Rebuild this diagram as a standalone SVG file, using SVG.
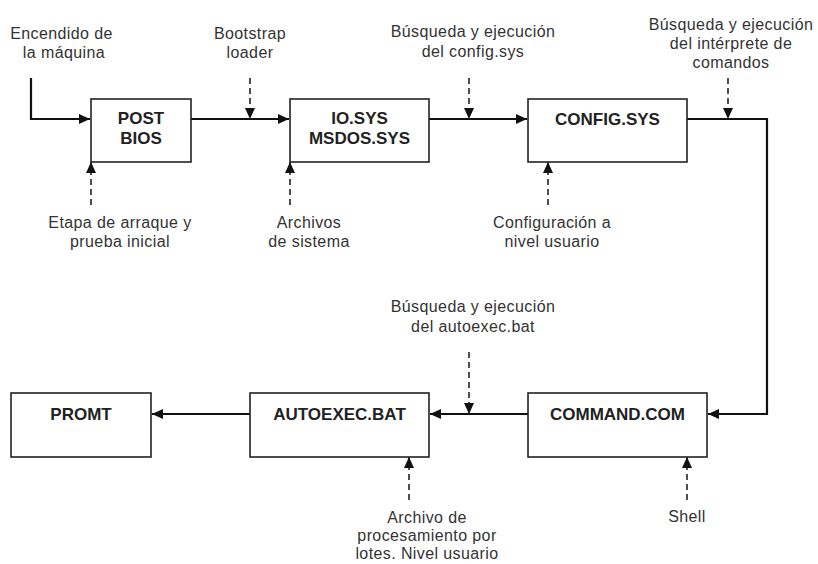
<svg xmlns="http://www.w3.org/2000/svg" width="818" height="564" viewBox="0 0 818 564">
  <style>
    .box { fill: #ffffff; stroke: #222; stroke-width: 1.6; }
    .title { font-family: "Liberation Sans", Arial, sans-serif; font-weight: bold; font-size: 17px; fill: #222; text-anchor: middle; }
    .note { font-family: "Liberation Sans", Arial, sans-serif; font-size: 16px; letter-spacing: 0.4px; fill: #333; text-anchor: middle; }
    .flow { fill: none; stroke: #111; stroke-width: 2.2; marker-end: url(#head); }
    .hint { fill: none; stroke: #222; stroke-width: 1.6; stroke-dasharray: 6 4; marker-end: url(#head); }
  </style>
  <defs>
    <marker id="head" markerUnits="userSpaceOnUse" markerWidth="12" markerHeight="10" refX="11" refY="5" orient="auto">
      <path d="M0,0 L11,5 L0,10 z" fill="#111"/>
    </marker>
  </defs>
  <rect width="818" height="564" fill="#ffffff"/>

  <!-- flow connectors -->
  <g id="connectors">
    <path class="flow" d="M31,78 V119 H90"/>
    <path class="flow" d="M191,119 H289"/>
    <path class="flow" d="M429,119 H527"/>
    <path class="flow" d="M687,119 H767 V414 H708"/>
    <path class="flow" d="M528,414 H430"/>
    <path class="flow" d="M250,414 H152"/>
    <!-- dashed annotation pointers -->
    <path class="hint" d="M250,78 V119"/>
    <path class="hint" d="M469,78 V119"/>
    <path class="hint" d="M728,78 V119"/>
    <path class="hint" d="M469,352 V414"/>
    <path class="hint" d="M91,205 V162"/>
    <path class="hint" d="M290,205 V162"/>
    <path class="hint" d="M548,205 V162"/>
    <path class="hint" d="M409,500 V457"/>
    <path class="hint" d="M687,500 V457"/>
  </g>

  <!-- boot stages -->
  <g id="post-bios">
    <rect class="box" x="91" y="99" width="100" height="63"/>
    <text class="title" x="141" y="124">POST</text>
    <text class="title" x="141" y="144">BIOS</text>
  </g>
  <g id="io-sys">
    <rect class="box" x="290" y="99" width="139" height="63"/>
    <text class="title" x="359.5" y="124">IO.SYS</text>
    <text class="title" x="359.5" y="144">MSDOS.SYS</text>
  </g>
  <g id="config-sys">
    <rect class="box" x="528" y="99" width="159" height="63"/>
    <text class="title" x="607.5" y="125">CONFIG.SYS</text>
  </g>
  <g id="command-com">
    <rect class="box" x="528" y="393" width="179" height="64"/>
    <text class="title" x="617.5" y="420">COMMAND.COM</text>
  </g>
  <g id="autoexec-bat">
    <rect class="box" x="250" y="393" width="179" height="64"/>
    <text class="title" x="339.5" y="420">AUTOEXEC.BAT</text>
  </g>
  <g id="promt">
    <rect class="box" x="11" y="393" width="140" height="64"/>
    <text class="title" x="81" y="420">PROMT</text>
  </g>

  <!-- annotations -->
  <g id="labels">
    <text class="note" x="61.5" y="39">Encendido de</text>
    <text class="note" x="64" y="58">la máquina</text>
    <text class="note" x="250" y="39">Bootstrap</text>
    <text class="note" x="250" y="58">loader</text>
    <text class="note" x="473" y="37">Búsqueda y ejecución</text>
    <text class="note" x="473" y="57">del config.sys</text>
    <text class="note" x="731" y="30">Búsqueda y ejecución</text>
    <text class="note" x="731" y="49">del intérprete de</text>
    <text class="note" x="731" y="68">comandos</text>
    <text class="note" x="120" y="228">Etapa de arraque y</text>
    <text class="note" x="120" y="247">prueba inicial</text>
    <text class="note" x="309" y="228">Archivos</text>
    <text class="note" x="309" y="247">de sistema</text>
    <text class="note" x="552" y="228">Configuración a</text>
    <text class="note" x="552" y="247">nivel usuario</text>
    <text class="note" x="473" y="312">Búsqueda y ejecución</text>
    <text class="note" x="473" y="332">del autoexec.bat</text>
    <text class="note" x="427" y="523">Archivo de</text>
    <text class="note" x="427" y="541">procesamiento por</text>
    <text class="note" x="427" y="559">lotes. Nivel usuario</text>
    <text class="note" x="687" y="522">Shell</text>
  </g>
</svg>
